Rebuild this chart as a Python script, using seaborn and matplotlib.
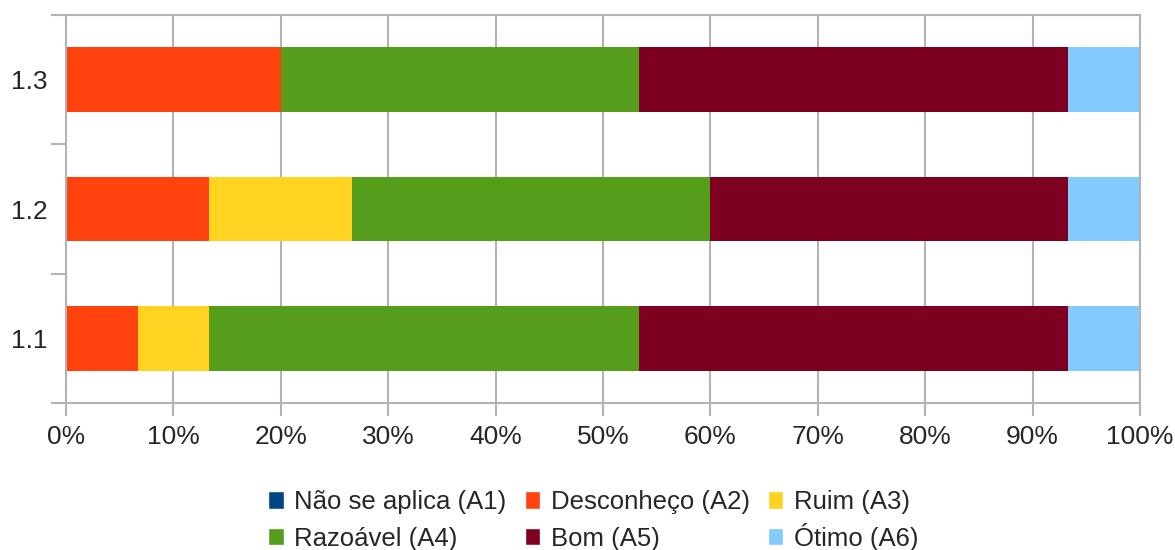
import numpy as np
import pandas as pd
import matplotlib
matplotlib.use("Agg")
import matplotlib.pyplot as plt
import seaborn as sns
from matplotlib.patches import Patch
from matplotlib.ticker import FixedLocator, PercentFormatter
from matplotlib.transforms import Affine2D

items = ["1.3", "1.2", "1.1"]
series = ["Não se aplica (A1)", "Desconheço (A2)", "Ruim (A3)",
          "Razoável (A4)", "Bom (A5)", "Ótimo (A6)"]
a1 = [0.0, 0.0, 0.0]
a2 = [20.0, 13.33, 6.67]
a3 = [0.0, 13.33, 6.67]
a4 = [33.33, 33.33, 40.0]
a5 = [40.0, 33.33, 40.0]
a6 = [6.67, 6.67, 6.67]
colors = ["#004586", "#ff420e", "#ffd320", "#579d1c", "#7e0021", "#83caff"]

df = pd.DataFrame({"item": items, series[0]: a1, series[1]: a2, series[2]: a3,
                   series[3]: a4, series[4]: a5, series[5]: a6})
cum = df[series].cumsum(axis=1)
cum["item"] = df["item"]

sns.set_style("white")
plt.rcParams["font.family"] = ["Liberation Sans", "DejaVu Sans"]

fig = plt.figure(figsize=(11.75, 5.5), dpi=100)
ax = fig.add_axes([66 / 1175, 1 - 403 / 550, (1140 - 66) / 1175, (403 - 15) / 550])

grid_c = "#b3b3b3"
ax.set_axisbelow(True)
ax.grid(axis="x", color=grid_c, linewidth=1.5)

# draw cumulative layers from right to left so each covers the next
for s, c in reversed(list(zip(series, colors))):
    sns.barplot(data=cum, x=s, y="item", order=items, orient="h",
                color=c, width=0.5, saturation=1, linewidth=0, ax=ax)

ax.set_xlim(0, 100)
ax.set_ylim(2.5, -0.5)
ax.set_xticks(np.arange(0, 101, 10))
ax.xaxis.set_major_formatter(PercentFormatter(decimals=0))
ax.set_xlabel("")
ax.set_ylabel("")

ax.yaxis.set_minor_locator(FixedLocator([-0.5, 0.5, 1.5, 2.5]))
ax.tick_params(axis="y", which="major", length=0, pad=13, labelsize=19)
ax.tick_params(axis="y", which="minor", length=11, width=1.5, color=grid_c, left=True)
ax.tick_params(axis="x", length=9, width=1.5, color=grid_c, labelsize=19, pad=7, bottom=True)

for side in ["top", "bottom", "left", "right"]:
    ax.spines[side].set_visible(True)
    ax.spines[side].set_color(grid_c)
    ax.spines[side].set_linewidth(1.5)

handles = [Patch(facecolor=c, label=s) for s, c in zip(series, colors)]
order = [0, 3, 1, 4, 2, 5]
leg = ax.legend([handles[i] for i in order], [series[i] for i in order],
                loc="center", bbox_to_anchor=(0.505, 0.050), bbox_transform=fig.transFigure,
                ncol=3, frameon=False, fontsize=18.5, handlelength=0.6, handleheight=0.65,
                handletextpad=0.42, columnspacing=0.7, labelspacing=0.5,
                borderpad=0, borderaxespad=0)

# the accent on "Ó" pushes that entry down; line it up with its row
fig.canvas.draw()
r = fig.canvas.get_renderer()
lh = leg.legend_handles
dy = lh[1].get_window_extent(r).y0 - lh[5].get_window_extent(r).y0
shift = Affine2D().translate(0, dy)
lh[5].set_transform(lh[5].get_data_transform() + shift)
txt = leg.get_texts()[5]
txt.set_transform(txt.get_transform() + shift)

fig.savefig("out.png", dpi=100)
